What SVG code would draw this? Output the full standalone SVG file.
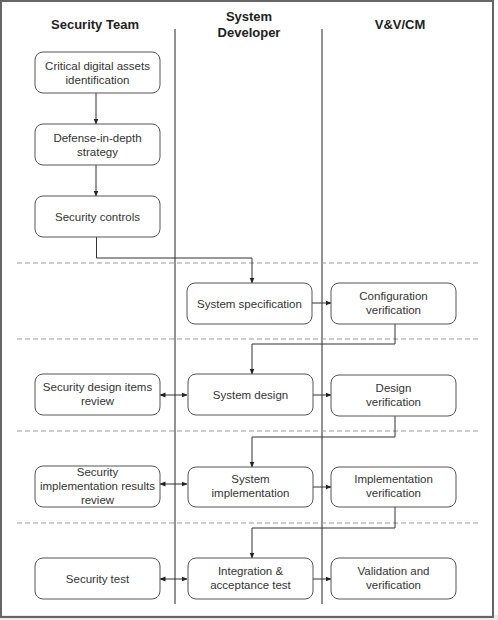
<svg xmlns="http://www.w3.org/2000/svg" width="498" height="620" viewBox="0 0 498 620">
<defs>
<style>
.node rect{fill:#fff;stroke:#555;stroke-width:1}
.node text,.lbl{font-family:"Liberation Sans",Arial,sans-serif;font-size:11.5px;fill:#333;text-anchor:middle}
.hdr{font-family:"Liberation Sans",Arial,sans-serif;font-size:13px;font-weight:bold;fill:#222;text-anchor:middle}
.lane{stroke:#777;stroke-width:1.6}
.sep{stroke:#999;stroke-width:1;stroke-dasharray:5,3}
.conn path{fill:none;stroke:#333;stroke-width:1}
</style>
<marker id="ah" markerWidth="6" markerHeight="6" refX="5.5" refY="3" orient="auto" markerUnits="userSpaceOnUse"><path d="M0,0.5 L6,3 L0,5.5 Z" fill="#222"/></marker>
<marker id="ahs" markerWidth="6" markerHeight="6" refX="0.5" refY="3" orient="auto" markerUnits="userSpaceOnUse"><path d="M6,0.5 L0,3 L6,5.5 Z" fill="#222"/></marker>
</defs>
<rect x="0" y="0" width="498" height="620" fill="#fff"/>
<rect x="0" y="615" width="498" height="5" fill="#ececec"/>
<rect x="1" y="1" width="492" height="616" fill="none" stroke="#666" stroke-width="2"/>
<g id="headers">
<text class="hdr" x="95" y="29">Security Team</text>
<text class="hdr" x="249" y="21">System</text>
<text class="hdr" x="249" y="37">Developer</text>
<text class="hdr" x="400" y="29">V&amp;V/CM</text>
</g>
<g id="lanes">
<line class="lane" x1="175" y1="29" x2="175" y2="604"/>
<line class="lane" x1="322" y1="29" x2="322" y2="604"/>
</g>
<g id="separators">
<line class="sep" x1="17" y1="263" x2="481" y2="263"/>
<line class="sep" x1="17" y1="339" x2="481" y2="339"/>
<line class="sep" x1="17" y1="431" x2="481" y2="431"/>
<line class="sep" x1="17" y1="523" x2="481" y2="523"/>
</g>
<g class="conn" id="connectors">
<path d="M96,93 V124" marker-end="url(#ah)"/>
<path d="M96,165 V196" marker-end="url(#ah)"/>
<path d="M96.5,237 V258 H252 V283" marker-end="url(#ah)"/>
<path d="M312,303 H331" marker-end="url(#ah)"/>
<path d="M395,324 V344 H252 V374" marker-end="url(#ah)"/>
<path d="M160,395 H187" marker-start="url(#ahs)" marker-end="url(#ah)"/>
<path d="M313,395 H331" marker-end="url(#ah)"/>
<path d="M395,416 V437 H252 V467" marker-end="url(#ah)"/>
<path d="M160,484 H187" marker-start="url(#ahs)" marker-end="url(#ah)"/>
<path d="M313,487 H331" marker-end="url(#ah)"/>
<path d="M395,507 V528 H252 V558" marker-end="url(#ah)"/>
<path d="M160,579 H187" marker-start="url(#ahs)" marker-end="url(#ah)"/>
<path d="M313,579 H331" marker-end="url(#ah)"/>
</g>
<g class="node" id="n-assets"><rect x="35" y="52" width="125" height="41" rx="8"/><text x="97.5" y="70">Critical digital assets</text><text x="97.5" y="84">identification</text></g>
<g class="node" id="n-defense"><rect x="35" y="124" width="125" height="41" rx="8"/><text x="97.5" y="142">Defense-in-depth</text><text x="97.5" y="156">strategy</text></g>
<g class="node" id="n-controls"><rect x="35" y="196" width="125" height="41" rx="8"/><text x="97.5" y="220.5">Security controls</text></g>
<g class="node" id="n-spec"><rect x="187" y="283" width="125" height="41" rx="8"/><text x="249.5" y="307.5">System specification</text></g>
<g class="node" id="n-config"><rect x="331" y="283" width="125" height="41" rx="8"/><text x="393.5" y="300">Configuration</text><text x="393.5" y="314">verification</text></g>
<g class="node" id="n-secdesign"><rect x="35" y="374" width="125" height="41" rx="8"/><text x="97.5" y="391">Security design items</text><text x="97.5" y="405">review</text></g>
<g class="node" id="n-design"><rect x="188" y="374" width="125" height="41" rx="8"/><text x="250.5" y="399">System design</text></g>
<g class="node" id="n-designver"><rect x="331" y="375" width="125" height="41" rx="8"/><text x="393.5" y="392">Design</text><text x="393.5" y="406">verification</text></g>
<g class="node" id="n-secimpl"><rect x="35" y="466" width="125" height="41" rx="8"/><text x="97.5" y="476">Security</text><text x="97.5" y="490">implementation results</text><text x="97.5" y="504">review</text></g>
<g class="node" id="n-impl"><rect x="188" y="467" width="125" height="40" rx="8"/><text x="250.5" y="483">System</text><text x="250.5" y="497">implementation</text></g>
<g class="node" id="n-implver"><rect x="331" y="467" width="125" height="40" rx="8"/><text x="393.5" y="483">Implementation</text><text x="393.5" y="497">verification</text></g>
<g class="node" id="n-sectest"><rect x="35" y="558" width="125" height="41" rx="8"/><text x="97.5" y="583">Security test</text></g>
<g class="node" id="n-integ"><rect x="188" y="558" width="125" height="41" rx="8"/><text x="250.5" y="575">Integration &amp;</text><text x="250.5" y="589">acceptance test</text></g>
<g class="node" id="n-valid"><rect x="331" y="558" width="125" height="41" rx="8"/><text x="393.5" y="575">Validation and</text><text x="393.5" y="589">verification</text></g>
</svg>
